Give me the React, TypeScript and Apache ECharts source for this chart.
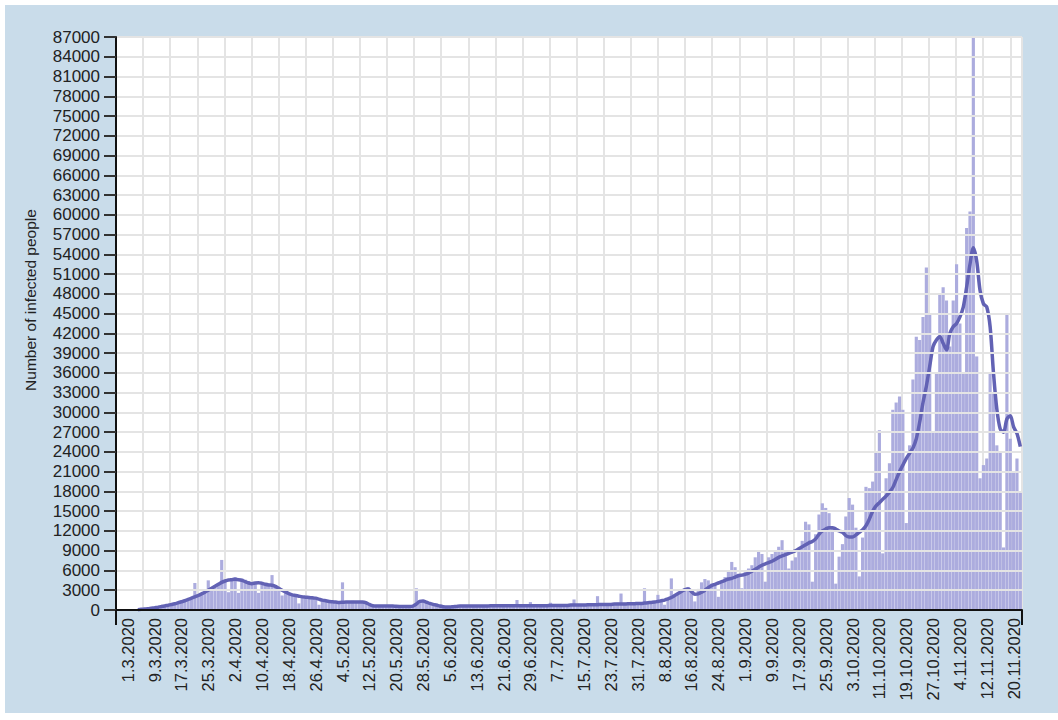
import React, { useEffect, useRef } from "react";
import * as echarts from "echarts";

// Daily new cases (27.2.2020 – 22.11.2020)
const casesFeb = [0, 0, 0];
const casesMar = [0, 0, 0, 60, 120, 160, 220, 300, 380, 450, 550, 650, 750, 850, 1000, 1150, 1300, 1450, 1650, 1900, 4100, 2300, 2500, 2800, 4500, 3300, 3700, 4100, 7600, 4400, 2700];
const casesApr = [4800, 5000, 2600, 4800, 4600, 4400, 3900, 4200, 2600, 4300, 4000, 3700, 5300, 3500, 3400, 2200, 2800, 2600, 2300, 2400, 1000, 2100, 2000, 1900, 2000, 1800, 800, 1600, 1500, 1400];
const casesMay = [1300, 1200, 1100, 4200, 1300, 1200, 1400, 1300, 1200, 1300, 1000, 600, 700, 500, 600, 700, 600, 500, 600, 600, 500, 600, 500, 600, 700, 3300, 1300, 1400, 1200, 1000, 900];
const casesJun = [700, 600, 500, 400, 450, 500, 550, 600, 650, 700, 650, 600, 700, 650, 600, 600, 700, 650, 700, 600, 650, 700, 650, 700, 1500, 700, 650, 700, 1200, 750];
const casesJul = [700, 750, 700, 800, 1100, 700, 750, 800, 700, 800, 850, 1600, 900, 800, 850, 900, 950, 900, 2100, 950, 1000, 900, 1000, 1050, 1100, 2500, 1100, 1000, 1100, 1200, 1000];
const casesAug = [1100, 3300, 1200, 1000, 1300, 2300, 1500, 800, 1800, 4800, 2200, 2500, 2700, 3000, 3500, 2800, 1300, 3200, 4200, 4700, 4500, 4000, 3800, 2000, 4200, 5000, 6000, 7300, 6500, 5500, 3300];
const casesSep = [6000, 6300, 6800, 8000, 9100, 8500, 4300, 8000, 8500, 9000, 9600, 10600, 9000, 6300, 7500, 8000, 9000, 10500, 13400, 13000, 4300, 11500, 14500, 16200, 15500, 14700, 12500, 4000, 8100, 10000];
const casesOct = [14200, 17000, 16000, 12500, 5100, 11000, 18700, 18500, 19500, 24000, 27300, 8600, 20000, 22300, 30400, 31500, 32400, 30400, 13200, 25000, 35000, 41500, 41000, 44500, 52000, 45000, 27000, 36000, 48000, 49000, 47000];
const casesNov = [40000, 47000, 52500, 43500, 36000, 58000, 60500, 87000, 38500, 20000, 22000, 23000, 36000, 33000, 25000, 24000, 9500, 45000, 26000, 21000, 23000, 18000];

// Smoothed line
const avgFeb = [null, null, null];
const avgMar = [null, null, null, 50, 100, 150, 200, 280, 350, 430, 520, 620, 720, 830, 950, 1100, 1250, 1400, 1600, 1800, 2000, 2200, 2450, 2700, 3000, 3300, 3600, 3900, 4200, 4400, 4550];
const avgApr = [4600, 4650, 4600, 4500, 4300, 4100, 4000, 4100, 4150, 4050, 3900, 3800, 3750, 3600, 3300, 3000, 2750, 2500, 2300, 2200, 2100, 2000, 1950, 1900, 1850, 1800, 1650, 1500, 1400, 1300];
const avgMay = [1250, 1200, 1150, 1170, 1200, 1200, 1200, 1200, 1200, 1200, 1100, 850, 650, 600, 600, 600, 600, 600, 600, 560, 550, 550, 550, 550, 600, 900, 1300, 1350, 1200, 1000, 850];
const avgJun = [750, 600, 500, 450, 450, 500, 550, 600, 600, 600, 620, 620, 620, 620, 620, 620, 630, 630, 630, 630, 640, 640, 640, 640, 650, 650, 650, 650, 650, 650];
const avgJul = [650, 650, 650, 650, 700, 700, 700, 700, 700, 700, 750, 750, 750, 750, 750, 800, 800, 800, 800, 850, 850, 850, 850, 900, 900, 900, 900, 950, 950, 950, 1000];
const avgAug = [1000, 1050, 1100, 1150, 1200, 1300, 1400, 1500, 1700, 1900, 2200, 2500, 2800, 3100, 3200, 2800, 2400, 2450, 2700, 3000, 3400, 3700, 3900, 4100, 4300, 4500, 4700, 4800, 5000, 5200, 5300];
const avgSep = [5400, 5600, 5900, 6200, 6500, 6800, 7000, 7200, 7400, 7700, 8000, 8200, 8400, 8600, 8800, 9000, 9300, 9600, 9900, 10200, 10400, 10800, 11500, 12000, 12300, 12500, 12500, 12300, 12000, 11800];
const avgOct = [11300, 11100, 11100, 11400, 11800, 12200, 12800, 13800, 15000, 15800, 16300, 16800, 17300, 17900, 18600, 19800, 21000, 22000, 23000, 23800, 24600, 26000, 28500, 31500, 34000, 37000, 40000, 41000, 41500, 40500, 39500];
const avgNov = [42000, 43000, 43500, 44500, 46000, 49000, 52500, 55000, 53000, 48500, 46500, 46000, 43000, 36000, 30500, 27500, 27000, 29000, 29500, 27800, 26800, 24800];

const cases = [...casesFeb, ...casesMar, ...casesApr, ...casesMay, ...casesJun, ...casesJul, ...casesAug, ...casesSep, ...casesOct, ...casesNov];
const average = [...avgFeb, ...avgMar, ...avgApr, ...avgMay, ...avgJun, ...avgJul, ...avgAug, ...avgSep, ...avgOct, ...avgNov];

// Day categories 27.2.2020 ... 22.11.2020
const categories: string[] = (() => {
  const out: string[] = [];
  const d = new Date(Date.UTC(2020, 1, 27));
  for (let i = 0; i < cases.length; i++) {
    out.push(`${d.getUTCDate()}.${d.getUTCMonth() + 1}.${d.getUTCFullYear()}`);
    d.setUTCDate(d.getUTCDate() + 1);
  }
  return out;
})();

const Y_MAX = 87000;
const Y_STEP = 3000;
const FIRST_LABEL = 3; // 1.3.2020
const LABEL_EVERY = 8;
const yTitle = "Number of infected people";

export default function App() {
  const ref = useRef<HTMLDivElement>(null);
  useEffect(() => {
    document.body.style.margin = "0";
    if (!ref.current) return;
    const chart = echarts.init(ref.current, null, { renderer: "svg" });
    const font = "'Liberation Sans', Arial, sans-serif";
    chart.setOption({
      animation: false,
      backgroundColor: "#c9dcea",
      grid: { left: 111, top: 32, width: 906, height: 573, show: true, backgroundColor: "#ffffff", borderWidth: 0 },
      xAxis: [
        {
          type: "category",
          data: categories,
          boundaryGap: true,
          z: 10,
          axisLine: { lineStyle: { color: "#111", width: 2 } },
          axisTick: { show: true, interval: (i: number) => i === 0, length: 15, lineStyle: { color: "#111", width: 2 } },
          axisLabel: {
            interval: (i: number) => i >= FIRST_LABEL && (i - FIRST_LABEL) % LABEL_EVERY === 0,
            rotate: 90,
            margin: 8,
            fontSize: 16.5,
            color: "#222",
            fontFamily: font,
          },
          splitLine: { show: false },
        },
        {
          type: "value",
          position: "top",
          min: 0,
          max: 906 / 27.1,
          interval: 1,
          axisLine: { show: false },
          axisTick: { show: false },
          axisLabel: { show: false },
          splitLine: { show: true, lineStyle: { color: "#e4e4e4", width: 2 } },
        },
      ],
      yAxis: {
        type: "value",
        min: 0,
        max: Y_MAX,
        interval: Y_STEP,
        z: 10,
        axisLine: { show: true, lineStyle: { color: "#111", width: 2 } },
        axisTick: { show: true, length: 12, lineStyle: { color: "#333", width: 2 } },
        axisLabel: { fontSize: 17, color: "#222", margin: 16, fontFamily: font, formatter: (v: number) => String(v) },
        splitLine: { show: true, lineStyle: { color: "#e4e4e4", width: 2 } },
      },
      graphic: [
        {
          type: "text",
          x: 25,
          y: 295,
          rotation: Math.PI / 2,
          style: { text: yTitle, fontSize: 15.5, fill: "#222", fontFamily: font, textAlign: "center", textVerticalAlign: "middle" },
        },
      ],
      series: [
        {
          type: "bar",
          data: cases,
          xAxisIndex: 0,
          barCategoryGap: "6%",
          itemStyle: { color: "#acacde" },
        },
        {
          type: "line",
          data: average,
          xAxisIndex: 0,
          smooth: 0.3,
          symbol: "none",
          lineStyle: { color: "#6262b4", width: 3.5 },
          z: 5,
        },
      ],
    });
    return () => chart.dispose();
  }, []);
  return (
    <div style={{ position: "relative", width: 1058, height: 720, background: "#ffffff" }}>
      <div ref={ref} style={{ position: "absolute", left: 5, top: 5, width: 1053, height: 708 }} />
    </div>
  );
}
